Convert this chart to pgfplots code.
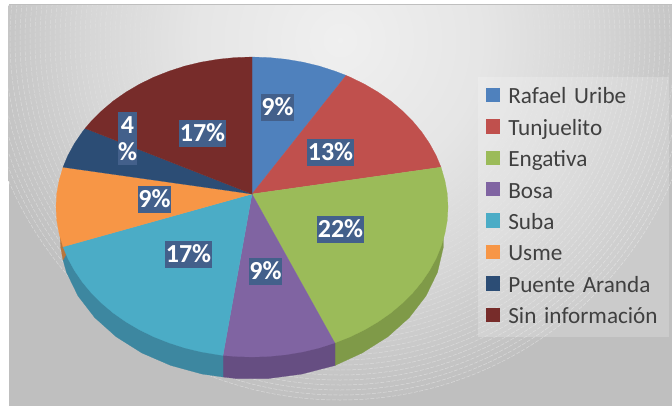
\documentclass[border=0pt]{standalone}
\usepackage{pgfplots}
\pgfplotsset{compat=1.18}
\usepackage{fontspec}
\setmainfont{Carlito}
\definecolor{cBlue}{HTML}{4F81BD}
\definecolor{cRed}{HTML}{C0504D}
\definecolor{cGreen}{HTML}{9BBB59}
\definecolor{cPurple}{HTML}{8064A2}
\definecolor{cCyan}{HTML}{4BACC6}
\definecolor{cOrange}{HTML}{F79646}
\definecolor{cNavy}{HTML}{2C4D75}
\definecolor{cMaroon}{HTML}{772C2A}
\definecolor{wGreen}{HTML}{7F9A48}
\definecolor{wPurple}{HTML}{664E82}
\definecolor{wCyan}{HTML}{3D87A0}
\definecolor{wOrange}{HTML}{B8763C}
\definecolor{labbg}{HTML}{43608B}
\definecolor{legtext}{HTML}{404040}
\pgfdeclareradialshading{bggrad}{\pgfpoint{0bp}{0bp}}{
  color(0bp)=(white!94!black);
  color(10bp)=(white!90!black);
  color(17.5bp)=(white!84!black);
  color(25bp)=(white!75.5!black);
  color(50bp)=(white!75.5!black)}
\tikzset{lbl/.style={fill=labbg,text=white,inner xsep=0.5bp,inner ysep=0bp,minimum height=27bp,
     font=\fontsize{26bp}{27bp}\selectfont\bfseries,text height=20bp,text depth=3.5bp}}
\begin{document}
\begin{tikzpicture}[x=1bp,y=1bp]
\path[use as bounding box] (0,0) rectangle (672,406);
\fill[white] (0,0) rectangle (672,406);
\fill[black!25] (8.5,0) rectangle (672,402);
\begin{scope}
\clip (8.5,0) rectangle (672,400.5);
\fill[black!25] (8.5,0) rectangle (672,400.5);
\shade[shading=bggrad] (340,366) circle (360);
\foreach \r in {150,155,...,360}{
  \pgfmathsetmacro{\op}{0.4*(\r-150)/210}
  \draw[white,line width=0.5bp,opacity=\op,dash pattern=on 4bp off 1.5bp] (340,366) circle (\r);
}
\end{scope}
\begin{axis}[
  at={(0,0)},anchor=south west,
  width=672bp,height=406bp,scale only axis,
  xmin=0,xmax=672,ymin=0,ymax=406,y dir=reverse,
  hide axis,no markers,
  legend cell align=left,
  legend image code/.code={\fill[#1,draw=none,fill opacity=1] (0bp,-5.2bp) rectangle (14bp,9.2bp);\path (22bp,0bp);},
  legend style={
    at={(axis cs:478,77)},anchor=north west,
    draw=none,fill=white,fill opacity=0.2,text opacity=1,
    inner xsep=8bp,inner ysep=9.3bp,
    font=\fontsize{23.2bp}{24bp}\selectfont,
    text=legtext,
    row sep=10.4bp,
    nodes={inner sep=0pt,text height=17.4bp,text depth=3.6bp,text width=153bp,align=left},
  },
]
% side walls
\addplot[forget plot,fill=wGreen,draw=wGreen,line width=0.2pt] coordinates {(443.3,222.4)(443.3,247.5)(437.5,272.3)(426,295.9)(409.3,317.6)(387.8,336.8)(362.1,353)(335,365.5)(335,342)(400,250)} -- cycle;
\addplot[forget plot,fill=wPurple,draw=wPurple,line width=0.2pt] coordinates {(335,365.5)(301.7,374.1)(268.7,378.5)(235.3,378.5)(223,377)(223,355)(335,342)} -- cycle;
\addplot[forget plot,fill=wCyan,draw=wCyan,line width=0.2pt] coordinates {(223,377)(202.3,374.1)(170.9,365.5)(141.9,353)(116.2,336.8)(94.7,317.6)(78,295.9)(66.5,272.3)(63,260)(63,247)(223,355)} -- cycle;
\addplot[forget plot,fill=wOrange,draw=wOrange,line width=0.2pt] coordinates {(63,260)(60.7,247.5)(60,235)(60.7,222.4)(63,200)(70,247)} -- cycle;
% top faces, one per category: 9, 13, 22, 9, 17, 9, 4, 17 per cent
\addplot[fill=cBlue,draw=cBlue,line width=0.2pt] coordinates {(252,194)(252,57)(269.1,57.6)(286,59.3)(302.7,62.1)(319,66)(334.8,71.1)(346.1,75.4)} -- cycle;
\addplot[fill=cRed,draw=cRed,line width=0.2pt] coordinates {(252,194)(346.1,75.4)(350,77.1)(364.4,84.1)(378,92.1)(390.6,100.9)(402.1,110.6)(412.6,121)(421.7,132)(429.6,143.6)(436.2,155.7)(441,167.2)} -- cycle;
\addplot[fill=cGreen,draw=cGreen,line width=0.2pt] coordinates {(252,194)(441,167.2)(445,181)(447.3,193.9)(448,207)(447.3,220.1)(445,233)(441.3,245.8)(436.2,258.3)(429.6,270.4)(421.7,282)(412.6,293)(402.1,303.4)(390.6,313.1)(378,321.9)(364.4,329.9)(350,336.9)(334.8,342.9)} -- cycle;
\addplot[fill=cPurple,draw=cPurple,line width=0.2pt] coordinates {(252,194)(334.8,342.9)(319,348)(302.7,351.9)(286,354.7)(269.1,356.4)(252,357)(234.9,356.4)(223,355.4)} -- cycle;
\addplot[fill=cCyan,draw=cCyan,line width=0.2pt] coordinates {(252,194)(223,355.4)(218,354.7)(201.3,351.9)(185,348)(169.2,342.9)(154,336.9)(139.6,329.9)(126,321.9)(113.4,313.1)(101.9,303.4)(91.4,293)(82.3,282)(74.4,270.4)(67.8,258.3)(63,246.8)} -- cycle;
\addplot[fill=cOrange,draw=cOrange,line width=0.2pt] coordinates {(252,194)(63,246.8)(59,233)(56.7,220.1)(56,207)(56.7,193.9)(59,181)(63,167.2)} -- cycle;
\addplot[fill=cNavy,draw=cNavy,line width=0.2pt] coordinates {(252,194)(63,167.2)(67.8,155.7)(74.4,143.6)(82.3,132)(85.1,128.4)} -- cycle;
\addplot[fill=cMaroon,draw=cMaroon,line width=0.2pt] coordinates {(252,194)(85.1,128.4)(91.4,121)(101.9,110.6)(113.4,100.9)(126,92.1)(139.6,84.1)(154,77.1)(169.2,71.1)(185,66)(201.3,62.1)(218,59.3)(234.9,57.6)(252,57)} -- cycle;
\legend{Rafael Uribe,Tunjuelito,Engativa,Bosa,Suba,Usme,Puente Aranda,Sin información}
\node[lbl] at (axis cs:277.5,107.5) {9\%};
\node[lbl] at (axis cs:202.5,133.5) {17\%};
\node[lbl] at (axis cs:330.5,152.5) {13\%};
\node[lbl] at (axis cs:340.5,229.5) {22\%};
\node[lbl] at (axis cs:265.5,271.5) {9\%};
\node[lbl] at (axis cs:188.5,254.5) {17\%};
\node[lbl] at (axis cs:154.5,199) {9\%};
\node[lbl,minimum height=53bp,minimum width=19bp,text height=,text depth=,align=center] at (axis cs:127.5,138.5) {4\\[0bp]\%};
\end{axis}
\end{tikzpicture}
\end{document}
